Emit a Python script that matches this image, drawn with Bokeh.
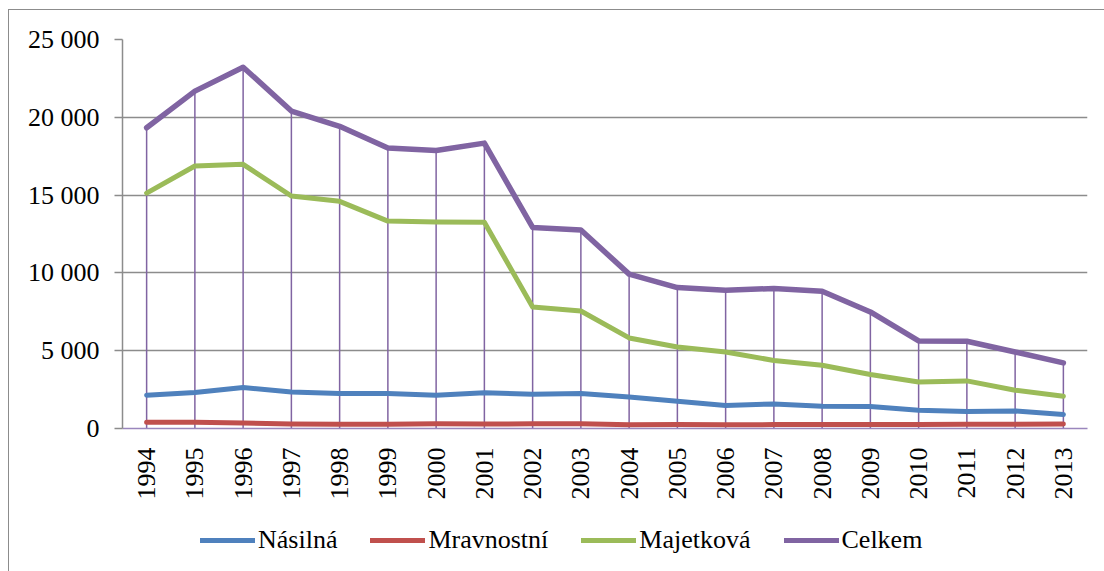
from bokeh.plotting import figure
from bokeh.models import FixedTicker, Legend, LegendItem, Spacer
from bokeh.layouts import column, row
from bokeh.embed import file_html
from bokeh.resources import INLINE
from math import pi

years = list(range(1994, 2014))
nasilna = [2140, 2310, 2630, 2350, 2250, 2250, 2140, 2300, 2200, 2250, 2030, 1750, 1480, 1580, 1430, 1410, 1175, 1090, 1130, 900]
mravnostni = [400, 400, 350, 290, 270, 270, 310, 290, 300, 300, 240, 260, 240, 250, 250, 260, 260, 270, 280, 290]
majetkova = [15130, 16870, 16980, 14940, 14600, 13330, 13270, 13250, 7810, 7550, 5820, 5240, 4920, 4370, 4070, 3470, 2990, 3060, 2460, 2070]
celkem = [19330, 21680, 23220, 20400, 19420, 18020, 17870, 18340, 12920, 12760, 9920, 9060, 8890, 9000, 8820, 7490, 5630, 5610, 4920, 4220]

series_names = ["Násilná", "Mravnostní", "Majetková", "Celkem"]
series_colors = ["#4F81BD", "#C0504D", "#9BBB59", "#8064A2"]
y_ticks = [0, 5000, 10000, 15000, 20000, 25000]
y_tick_labels = ["0", "5 000", "10 000", "15 000", "20 000", "25 000"]

FONT = "Liberation Serif"
all_series = [nasilna, mravnostni, majetkova, celkem]

# ---------------- main chart ----------------
p = figure(width=1095, height=500, output_backend="svg", toolbar_location=None,
           x_range=(1993.5, 2013.5), y_range=(0, 25000),
           min_border_left=113, min_border_top=29, min_border_right=17, min_border_bottom=82)
p.outline_line_color = None
p.background_fill_color = "white"
p.border_fill_color = "white"

p.xgrid.grid_line_color = None
p.ygrid.grid_line_color = "#8c8c8c"
p.ygrid.grid_line_width = 1.5
p.ygrid.ticker = FixedTicker(ticks=y_ticks)

p.yaxis.ticker = FixedTicker(ticks=y_ticks)
p.yaxis.major_label_overrides = {t: l for t, l in zip(y_ticks, y_tick_labels)}
p.yaxis.axis_line_color = "#8c8c8c"
p.yaxis.axis_line_width = 1.5
p.yaxis.major_tick_line_color = "#8c8c8c"
p.yaxis.major_tick_line_width = 1.5
p.yaxis.major_tick_out = 8
p.yaxis.major_tick_in = 0
p.yaxis.minor_tick_line_color = None
p.yaxis.major_label_standoff = 15
p.yaxis.major_label_text_font = FONT
p.yaxis.major_label_text_font_size = "26px"
p.yaxis.major_label_text_color = "black"

p.xaxis.ticker = FixedTicker(ticks=years)
p.xaxis.major_label_overrides = {y: str(y) for y in years}
p.xaxis.axis_line_color = "#9a86bd"
p.xaxis.axis_line_width = 1.5
p.xaxis.major_tick_line_color = None
p.xaxis.major_tick_out = 0
p.xaxis.major_tick_in = 0
p.xaxis.minor_tick_line_color = None
p.xaxis.minor_tick_out = 0
p.xaxis.major_label_orientation = pi / 2
p.xaxis.major_label_standoff = 19
p.xaxis.major_label_text_font = FONT
p.xaxis.major_label_text_font_size = "26px"
p.xaxis.major_label_text_color = "black"

# drop lines from "Celkem" to the axis
p.segment(x0=years, y0=[0] * len(years), x1=years, y1=celkem,
          line_color="#8064A2", line_width=1.5)

for vals, color, w in zip(all_series, series_colors, [5, 5, 5, 5.5]):
    p.line(years, vals, line_color=color, line_width=w, line_join="round", line_cap="round")

# ---------------- legend strip (its lines lie outside its own ranges) ----------------
lg = figure(width=1095, height=61, output_backend="svg", toolbar_location=None,
            x_range=(0, 1), y_range=(0, 1), x_axis_location=None, y_axis_location=None,
            min_border_left=0, min_border_right=0, min_border_top=0, min_border_bottom=0)
lg.outline_line_color = None
lg.grid.grid_line_color = None
lg.background_fill_color = "white"
lg.border_fill_color = "white"

items = []
for name, color, vals in zip(series_names, series_colors, all_series):
    r = lg.line(years, vals, line_color=color, line_width=5, line_cap="round")
    items.append(LegendItem(label=name, renderers=[r]))

legend = Legend(items=items, orientation="horizontal", location=(78, 16))
legend.glyph_width = 55
legend.glyph_height = 30
legend.label_height = 30
legend.label_standoff = 3
legend.spacing = 33
legend.padding = 0
legend.margin = 0
legend.border_line_color = None
legend.background_fill_alpha = 0
legend.label_text_font = FONT
legend.label_text_font_size = "26px"
legend.label_text_color = "black"
lg.add_layout(legend, "center")

chart = column(p, lg, spacing=0)
chart.styles = {"border-left": "1px solid #8c8c8c", "border-top": "1px solid #8c8c8c"}

page = row(Spacer(width=8, height=10), column(Spacer(width=10, height=9), chart, spacing=0), spacing=0)

open("out.html", "w").write(file_html(page, INLINE))
